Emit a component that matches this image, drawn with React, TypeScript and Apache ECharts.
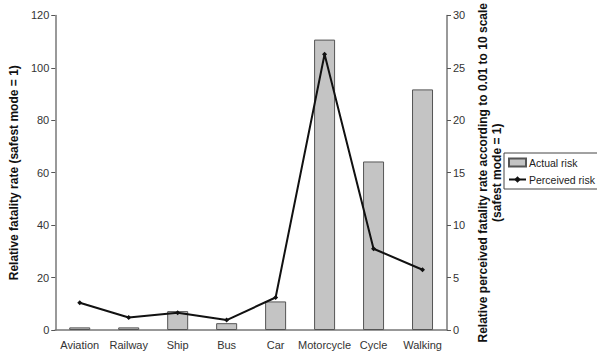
import React, { useEffect, useRef } from "react";
import * as echarts from "echarts";

const categories = ["Aviation", "Railway", "Ship", "Bus", "Car", "Motorcycle", "Cycle", "Walking"];
const actualRisk = [1, 1, 7.2, 2.6, 10.9, 110.8, 64.3, 91.8];
const perceivedRisk = [2.6, 1.2, 1.65, 0.95, 3.1, 26.3, 7.75, 5.75];

const FONT = "Liberation Sans, Arial, sans-serif";

export default function App() {
  const ref = useRef<HTMLDivElement>(null);
  useEffect(() => {
    if (!ref.current) return;
    const chart = echarts.init(ref.current, undefined, { renderer: "svg" });
    chart.setOption({
      animation: false,
      backgroundColor: "#ffffff",
      textStyle: { fontFamily: FONT },
      grid: { left: 42, right: 150, top: 13, bottom: 31 },
      legend: {
        orient: "vertical",
        left: 504,
        top: 153,
        borderColor: "#444",
        borderWidth: 1,
        borderRadius: 0,
        padding: [4, 3, 4, 4],
        itemGap: 6,
        itemWidth: 17,
        itemHeight: 8,
        textStyle: { fontFamily: FONT, fontSize: 10.5, color: "#222", padding: [0, 0, 0, -2] },
        data: [
          { name: "Actual risk", icon: "rect" },
          { name: "Perceived risk" },
        ],
      },
      xAxis: {
        type: "category",
        data: categories,
        axisLine: { lineStyle: { color: "#777", width: 1.5 } },
        axisTick: { alignWithLabel: false, length: 5, lineStyle: { color: "#555" } },
        axisLabel: { color: "#333", fontSize: 11, margin: 9, interval: 0 },
      },
      yAxis: [
        {
          type: "value",
          min: 0,
          max: 120,
          interval: 20,
          position: "left",
          name: "Relative fatality rate (safest mode = 1)",
          nameLocation: "middle",
          nameRotate: 90,
          nameGap: 33,
          nameTextStyle: { fontWeight: "bold", fontSize: 12, color: "#111" },
          axisLine: { show: true, lineStyle: { color: "#777", width: 1.5 } },
          axisTick: { show: true, length: 4, lineStyle: { color: "#555" } },
          axisLabel: { color: "#333", fontSize: 11, margin: 6 },
          splitLine: { show: false },
        },
        {
          type: "value",
          min: 0,
          max: 30,
          interval: 5,
          position: "right",
          name: "Relative perceived fatality rate according to 0.01 to 10 scale\n(safest mode = 1)",
          nameLocation: "middle",
          nameRotate: 90,
          nameGap: 24,
          nameTextStyle: { fontWeight: "bold", fontSize: 12, color: "#111", lineHeight: 14, align: "center" },
          axisLine: { show: true, lineStyle: { color: "#777", width: 1.5 } },
          axisTick: { show: true, length: 4, lineStyle: { color: "#555" } },
          axisLabel: { color: "#333", fontSize: 11, margin: 6 },
          splitLine: { show: false },
        },
      ],
      series: [
        {
          name: "Actual risk",
          type: "bar",
          yAxisIndex: 0,
          data: actualRisk,
          barWidth: 21,
          itemStyle: { color: "#c4c4c4", borderColor: "#555", borderWidth: 1 },
        },
        {
          name: "Perceived risk",
          type: "line",
          yAxisIndex: 1,
          data: perceivedRisk,
          symbol: "diamond",
          symbolSize: 5,
          lineStyle: { color: "#111", width: 2 },
          itemStyle: { color: "#111" },
        },
      ],
    });
    return () => chart.dispose();
  }, []);
  return <div ref={ref} style={{ width: 597, height: 361, position: "absolute", left: 0, top: 0 }} />;
}
